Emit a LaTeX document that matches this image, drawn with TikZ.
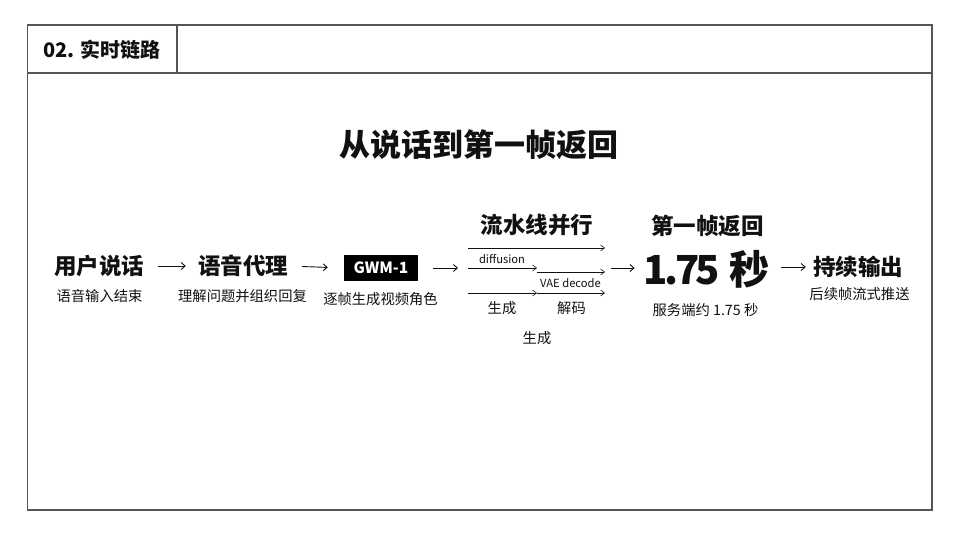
\documentclass[tikz,border=0pt]{standalone}
\usepackage{fontspec}
\setmainfont{Noto Sans CJK SC}
\usetikzlibrary{arrows.meta}
\definecolor{framegray}{HTML}{555555}
\definecolor{ink}{HTML}{111111}

\begin{document}
\begin{tikzpicture}[x=1pt,y=-1pt,text=ink,
	head/.style={font=\fontsize{22.5}{26}\selectfont\bfseries, inner sep=0},
	note/.style={font=\fontsize{14.3}{17}\selectfont, inner sep=0},
	tiny/.style={font=\fontsize{11.2}{13}\selectfont, inner sep=0},
	flow/.style={draw=ink, line width=0.9pt, -{Straight Barb[length=4pt,width=7pt]}},
	pipe/.style={draw=ink, line width=0.6pt, -{Straight Barb[length=4pt,width=6pt]}}]
	%%%%% START %%%%%
	\useasboundingbox (0,0) rectangle (960,536);
	
	\draw[framegray, line width=1.6pt] (27.5,25) rectangle (932,510);
	\draw[framegray, line width=1.6pt] (27.5,73) -- (932,73);
	\draw[framegray, line width=1.6pt] (177,25) -- (177,73);
	\node[font=\fontsize{20}{24}\selectfont\bfseries, inner sep=0, anchor=west] (tag) at (43,50) {02. 实时链路};
	
	\node[font=\fontsize{31}{36}\selectfont\bfseries, inner sep=0] (title) at (479,145) {从说话到第一帧返回};
	
	\node[head] (user) at (99,266) {用户说话};
	\node[note] (userNote) at (99.5,296) {语音输入结束};
	
	\node[head] (agent) at (243,266) {语音代理};
	\node[note] (agentNote) at (242.5,296) {理解问题并组织回复};
	
	\node[fill=black, text=white, font=\fontsize{15.5}{18}\selectfont\bfseries, minimum width=74pt, minimum height=26pt, inner sep=0] (gwm) at (381,268) {GWM-1};
	\node[note] (gwmNote) at (380.5,299) {逐帧生成视频角色};
	
	\node[head] (pipeTitle) at (537,225) {流水线并行};
	\coordinate (pin) at (458,268);
	\coordinate (p1s) at (468,248); \coordinate (p1e) at (605,248);
	\coordinate (p2s) at (468,268); \coordinate (p2e) at (537,268);
	\coordinate (p3s) at (537,272); \coordinate (p3e) at (605,272);
	\coordinate (p4s) at (468,293); \coordinate (p4m) at (537,293); \coordinate (p4e) at (605,293);
	\coordinate (pout) at (611,268);
	\draw[pipe] (p1s) -- (p1e);
	\draw[pipe] (p2s) -- (p2e);
	\draw[pipe] (p3s) -- (p3e);
	\draw[pipe] (p4s) -- (p4m);
	\draw[pipe] (p4m) -- (p4e);
	\node[tiny] (diff) at (502,259) {diffusion};
	\node[tiny] (vae) at (570.5,283) {VAE decode};
	\node[note] (gen) at (502,308) {生成};
	\node[note] (dec) at (571.5,308) {解码};
	\node[note] (genAll) at (537,338) {生成};
	
	\node[head] (firstTitle) at (707.5,226) {第一帧返回};
	\node[font=\fontsize{40}{44}\selectfont\bfseries, inner sep=0] (time) at (706.5,269) {{\addfontfeature{LetterSpace=-9}1.75}\hspace{9pt}秒};
	\node[note] (timeNote) at (705.5,310) {服务端约 1.75 秒};
	
	\node[head] (out) at (858,267) {持续输出};
	\node[note] (outNote) at (859.5,294) {后续帧流式推送};
	
	\draw[flow, shorten <=14pt, shorten >=12pt] (user.east) -- (agent.west);
	\draw[flow, shorten <=14pt, shorten >=16pt] (agent.east) -- (gwm.west);
	\draw[flow, shorten <=15pt] (gwm.east) -- (pin);
	\draw[flow, shorten >=9pt] (pout) -- (time.west |- pout);
	\draw[flow, shorten <=12pt, shorten >=7pt] (time.east |- out.east) -- (out.west);
	%%%%% END %%%%%
\end{tikzpicture}
\end{document}
